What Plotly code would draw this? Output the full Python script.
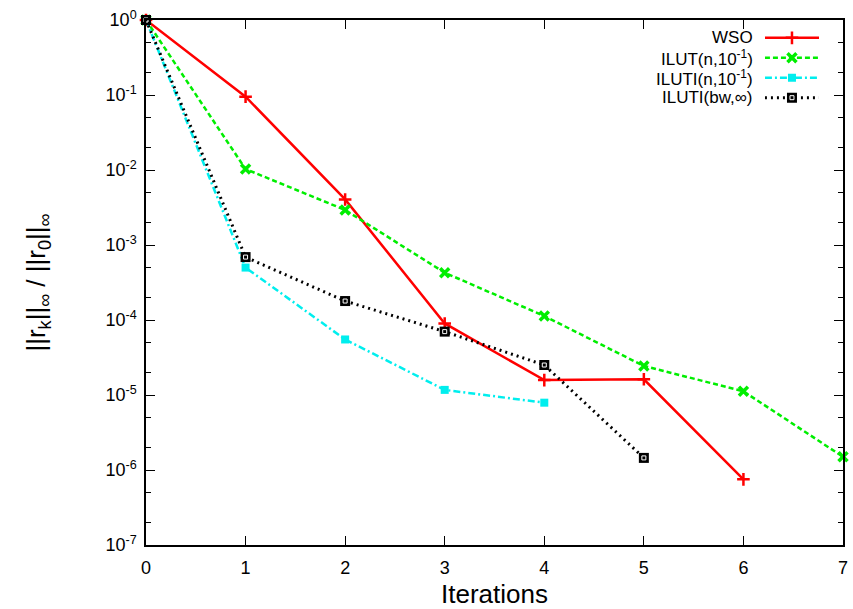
import plotly.graph_objects as go

# Relative residual history per preconditioner
iters_wso = [0, 1, 2, 3, 4, 5, 6]
res_wso = [1.0, 0.095, 4.05e-3, 9.0e-5, 1.58e-5, 1.62e-5, 7.5e-7]

iters_ilut = [0, 1, 2, 3, 4, 5, 6, 7]
res_ilut = [1.0, 1.03e-2, 2.93e-3, 4.27e-4, 1.13e-4, 2.44e-5, 1.12e-5, 1.5e-6]

iters_iluti = [0, 1, 2, 3, 4]
res_iluti = [1.0, 5.0e-4, 5.5e-5, 1.17e-5, 7.9e-6]

iters_iluti_bw = [0, 1, 2, 3, 4, 5]
res_iluti_bw = [1.0, 6.9e-4, 1.79e-4, 7.0e-5, 2.51e-5, 1.45e-6]

series_names = ["WSO", "ILUT(n,10<sup>-1</sup>)", "ILUTI(n,10<sup>-1</sup>)", "ILUTI(bw,∞)"]

exponents = [0, -1, -2, -3, -4, -5, -6, -7]
ytick_vals = [10.0 ** e for e in exponents]
ytick_text = [f"10<sup>{e}</sup>" for e in exponents]
xtick_vals = [0, 1, 2, 3, 4, 5, 6, 7]

FONT = "Liberation Sans, Arial, Helvetica, sans-serif"

styles = [
    dict(color="#ff0000", dash="solid", width=2.5, symbol="cross-thin", msize=9, mline=2.5),
    dict(color="#00ee00", dash="5px,3px", width=2.5, symbol="x-thin", msize=9, mline=3.5),
    dict(color="#00eeee", dash="7px,3px,2px,3px", width=2.5, symbol="square", msize=8, mline=0),
    dict(color="#000000", dash="2px,4px", width=3, symbol="square", msize=10, mline=0),
]
data = [
    (iters_wso, res_wso),
    (iters_ilut, res_ilut),
    (iters_iluti, res_iluti),
    (iters_iluti_bw, res_iluti_bw),
]

fig = go.Figure()
for (xs, ys), st, name in zip(data, styles, series_names):
    fig.add_trace(go.Scatter(
        x=xs, y=ys, mode="lines+markers", name=name, showlegend=False,
        cliponaxis=False,
        line=dict(color=st["color"], dash=st["dash"], width=st["width"]),
        marker=dict(symbol=st["symbol"], size=st["msize"], color=st["color"],
                    line=dict(color=st["color"], width=st["mline"])),
    ))

# small white inset inside the black box markers
fig.add_trace(go.Scatter(
    x=iters_iluti_bw, y=res_iluti_bw, mode="markers", showlegend=False,
    cliponaxis=False, hoverinfo="skip",
    marker=dict(symbol="square-open", size=4, color="white", line=dict(color="white", width=1)),
))

# Key in the upper right: label right-aligned, sample line to its right
key_rows = [0.9, 0.7, 0.5, 0.3]
for (name, st, ky) in zip(series_names, styles, key_rows):
    fig.add_trace(go.Scatter(
        x=[0.0, 0.5, 1.0], y=[ky, ky, ky], xaxis="x2", yaxis="y2",
        mode="lines", showlegend=False, hoverinfo="skip",
        line=dict(color=st["color"], dash=st["dash"], width=st["width"]),
    ))
    fig.add_trace(go.Scatter(
        x=[0.5], y=[ky], xaxis="x2", yaxis="y2",
        mode="markers", showlegend=False, hoverinfo="skip",
        marker=dict(symbol=st["symbol"], size=st["msize"], color=st["color"],
                    line=dict(color=st["color"], width=st["mline"])),
    ))
    fig.add_annotation(
        x=0.872, y=ky, xref="paper", yref="y2", text=name, showarrow=False,
        xanchor="right", yanchor="middle", borderpad=0,
        font=dict(family=FONT, size=17, color="black"),
    )
fig.add_trace(go.Scatter(
    x=[0.5], y=[key_rows[3]], xaxis="x2", yaxis="y2",
    mode="markers", showlegend=False, hoverinfo="skip",
    marker=dict(symbol="square-open", size=4, color="white", line=dict(color="white", width=1)),
))

axis_common = dict(
    showline=True, linecolor="black", linewidth=1.5, mirror="ticks",
    ticks="inside", ticklen=9, tickcolor="black", tickwidth=1,
    showgrid=False, zeroline=False, automargin=False,
    tickfont=dict(family=FONT, size=18, color="black"),
)

fig.update_layout(
    width=853, height=609,
    margin=dict(l=146, r=10, t=20, b=64),
    paper_bgcolor="white", plot_bgcolor="white",
    showlegend=False,
    xaxis=dict(
        range=[0, 7], tickvals=xtick_vals, ticklabelstandoff=6,
        title=dict(text="Iterations", font=dict(family=FONT, size=26, color="black"), standoff=8),
        **axis_common,
    ),
    yaxis=dict(
        type="log", range=[-7, 0], tickvals=ytick_vals, ticktext=ytick_text,
        ticklabelstandoff=4,
        minor=dict(ticks="inside", ticklen=5, tickcolor="black",
                   tickvals=[m * 10.0 ** e for e in range(-7, 0) for m in (2, 5)]),
        title=dict(text="||r<sub>k</sub>||<sub>∞</sub> / ||r<sub>0</sub>||<sub>∞</sub>",
                   font=dict(family=FONT, size=26, color="black"), standoff=52),
        **axis_common,
    ),
    xaxis2=dict(domain=[0.888, 0.9656], range=[0, 1], visible=False, fixedrange=True),
    yaxis2=dict(domain=[0.795, 0.985], range=[0, 1], visible=False, fixedrange=True, anchor="x2"),
)

fig.write_html("out.html")
